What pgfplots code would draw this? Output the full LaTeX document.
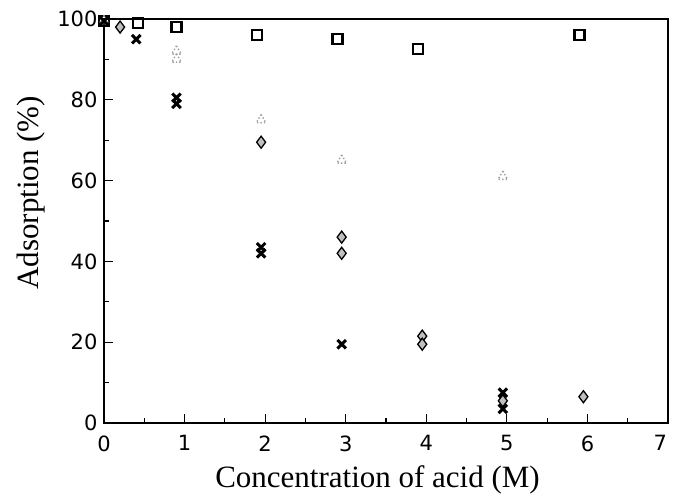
\documentclass[border=0pt]{standalone}
\usepackage{fontspec}
\setmainfont{Liberation Serif}
\setsansfont{DejaVu Sans}
\usepackage{pgfplots}
\pgfplotsset{compat=1.18}
\begin{document}
\begin{tikzpicture}[x=1pt,y=1pt]
\path[use as bounding box] (0,0) rectangle (674,497);
\begin{axis}[
  at={(104pt,74pt)}, anchor=south west,
  scale only axis,
  width=564pt, height=404pt,
  xmin=0, xmax=7, ymin=0, ymax=100,
  xtick={0,...,7}, ytick={0,20,...,100},
  xticklabels={0,1,2,3,4,5,6,\makebox[0pt][r]{7\hspace{1pt}}},
  minor xtick={0.5,1.5,...,6.5}, minor ytick={10,30,...,90},
  xtick pos=bottom, ytick pos=left,
  tick align=inside,
  major tick length=9pt, minor tick length=5pt,
  every tick/.style={black, line width=1.2pt},
  axis line style={line width=1.6pt},
  /pgf/number format/assume math mode=true,
  ticklabel style={font=\sffamily\fontsize{21}{24}\selectfont},
  xticklabel style={yshift=-9pt},
  yticklabel style={xshift=-3pt},
  xlabel={Concentration of acid (M)},
  ylabel={Adsorption (\%)},
  label style={font=\fontsize{31}{34}\selectfont},
  xlabel style={at={(axis description cs:0.485,-0.142)}, anchor=center},
  ylabel style={at={(axis description cs:-0.13,0.57)}, anchor=center},
  clip=false,
]
\addplot[only marks, mark=square, mark size=5pt, mark options={line width=2.4pt, black}]
 coordinates {(0,99.5) (0.42,99) (0.9,98) (1.9,96) (2.9,95) (3.9,92.5) (5.9,96)};
\addplot[only marks, mark=triangle, mark size=5.5pt, mark options={line width=1.4pt, gray!75, dotted}]
 coordinates {(0,99.5) (0.9,92) (0.9,90) (1.95,75) (2.95,65) (4.95,61)};
\addplot[only marks, mark=diamond*, mark size=6pt, mark options={line width=1.3pt, draw=black, fill=gray!50}]
 coordinates {(0.2,98) (1.95,69.5) (2.95,46) (2.95,42) (3.95,21.5) (3.95,19.5) (4.95,5.5) (5.95,6.5)};
\addplot[only marks, mark=x, mark size=6pt, mark options={line width=3pt, black}]
 coordinates {(0,99.5) (0.4,95) (0.9,80.5) (0.9,79) (1.95,43.5) (1.95,42) (2.95,19.5) (4.95,7.5) (4.95,3.5)};
\end{axis}
\end{tikzpicture}
\end{document}
